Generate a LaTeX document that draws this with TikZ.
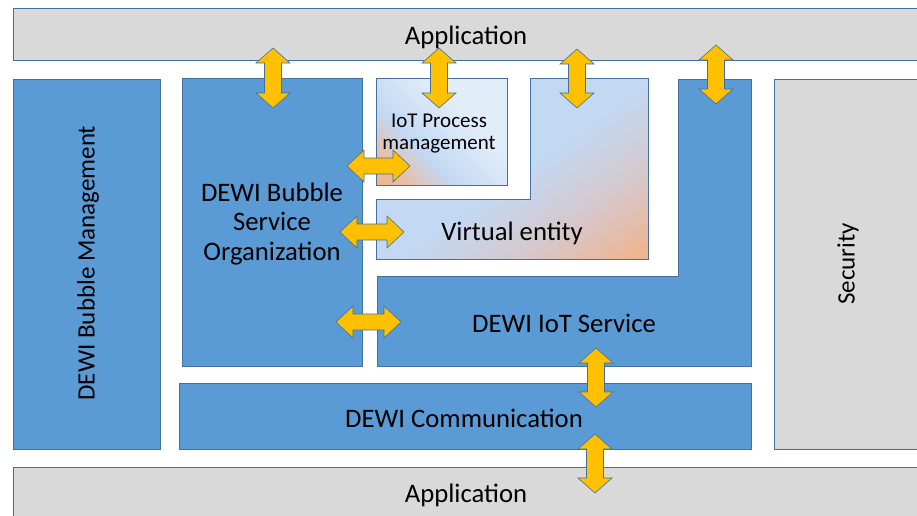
\documentclass[tikz,border=0pt]{standalone}
\usepackage{fontspec}
\setmainfont{Carlito}
\definecolor{boxblue}{HTML}{5B9BD5}
\definecolor{edge}{HTML}{41719C}
\definecolor{appgray}{HTML}{D9D9D9}
\definecolor{arrowfill}{HTML}{FFC000}
\definecolor{lightblue}{HTML}{C3D8F3}
\definecolor{palest}{HTML}{E2EDFA}
\definecolor{peach}{HTML}{F4B183}
\definecolor{mauve}{HTML}{D6C8CC}
\definecolor{peachmix}{HTML}{E8BDA5}
\pgfdeclareverticalshading{iotshade}{100bp}{color(0bp)=(peach); color(12bp)=(peach); color(24bp)=(peachmix); color(38bp)=(lightblue); color(62bp)=(palest); color(100bp)=(palest)}
\pgfdeclareverticalshading{veshade}{100bp}{color(0bp)=(peach); color(14bp)=(peach); color(32bp)=(mauve); color(48bp)=(lightblue); color(75bp)=(lightblue); color(100bp)=(lightblue)}
\tikzset{
  bluebox/.style={draw=edge, line width=0.8pt, fill=boxblue},
  graybox/.style={draw=edge, line width=0.8pt, fill=appgray},
  arr/.style={draw=edge, line width=0.6pt, fill=arrowfill, line join=miter},
  lbl/.style={font=\fontsize{26.7}{29.5}\selectfont, text=black, align=center, inner sep=0pt},
  sidelbl/.style={font=\fontsize{25}{29.5}\selectfont, text=black, align=center, inner sep=0pt},
  smalllbl/.style={font=\fontsize{21}{22}\selectfont, text=black, align=center, inner sep=0pt}
}
% vertical double arrow: centre x, top y, bottom y
\newcommand\VArrow[3]{%
  \draw[arr] (#1,#2) -- (#1+17,#2+15) -- (#1+8.5,#2+15) -- (#1+8.5,#3-15) -- (#1+17,#3-15)
    -- (#1,#3) -- (#1-17,#3-15) -- (#1-8.5,#3-15) -- (#1-8.5,#2+15) -- (#1-17,#2+15) -- cycle;}
% horizontal double arrow: centre y, left x, right x
\newcommand\HArrow[3]{%
  \draw[arr] (#2,#1) -- (#2+17,#1-16) -- (#2+17,#1-8) -- (#3-17,#1-8) -- (#3-17,#1-16)
    -- (#3,#1) -- (#3-17,#1+16) -- (#3-17,#1+8) -- (#2+17,#1+8) -- (#2+17,#1+16) -- cycle;}
\begin{document}
\begin{tikzpicture}[x=1pt,y=-1pt]
\useasboundingbox (0,0) rectangle (917,515);
\clip (0,0) rectangle (917,515);
\fill[white] (0,0) rectangle (917,515);

% application bars
\draw[graybox] (13,8) rectangle (930,60);
\draw[graybox] (13,467) rectangle (930,530);
% security
\draw[graybox] (774,79) rectangle (930,449);

% blue boxes
\draw[bluebox] (13,79) rectangle (160,449);
\draw[bluebox] (182,78) rectangle (362,366);
\draw[bluebox] (179,383) rectangle (751,449);
\draw[bluebox] (377,276) -- (678,276) -- (678,79) -- (751,79) -- (751,366) -- (377,366) -- cycle;

% gradient boxes
\shadedraw[draw=edge, line width=0.6pt, shading=iotshade, shading angle=-45]
  (376,78) rectangle (507,185);
\shadedraw[draw=edge, line width=0.6pt, shading=veshade, shading angle=35]
  (376,199) -- (530,199) -- (530,78) -- (648,78) -- (648,259) -- (376,259) -- cycle;

% arrows
\VArrow{273}{48}{108}
\VArrow{439}{48}{108}
\VArrow{577}{49}{108}
\VArrow{716}{45}{104}
\VArrow{596}{348}{407}
\VArrow{595}{434}{493}
\HArrow{166}{347}{410}
\HArrow{232}{340}{404}
\HArrow{322}{336}{401}

% labels
\node[lbl] (apptop) at (466,37) {Application};
\node[lbl] (appbot) at (466,495) {Application};
\node[sidelbl, rotate=90] (mgmt) at (88,263) {DEWI Bubble Management};
\node[lbl] (org) at (272,224) {DEWI Bubble\\Service\\Organization};
\node[smalllbl] (iotp) at (439,134) {IoT Process\\management};
\node[lbl] (ve) at (512,233) {Virtual entity};
\node[lbl] (iots) at (564,323) {DEWI IoT Service};
\node[lbl] (comm) at (464,418) {DEWI Communication};
\node[sidelbl, rotate=90] (sec) at (848,264) {Security};
\end{tikzpicture}
\end{document}
